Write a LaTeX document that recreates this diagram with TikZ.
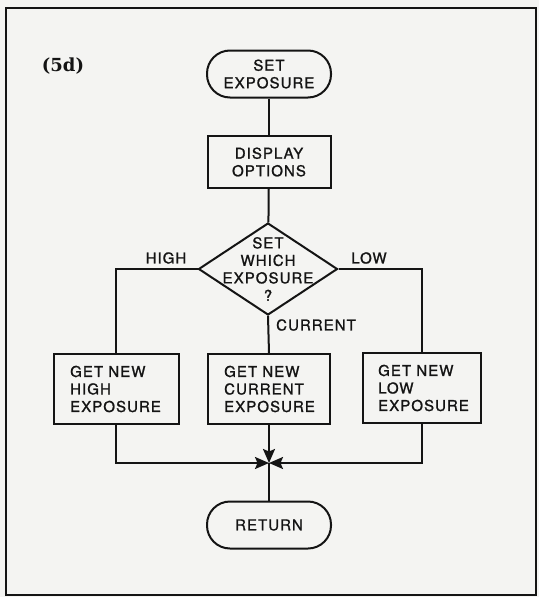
\documentclass[tikz,border=0pt]{standalone}
\usepackage{fontspec}
\newfontfamily\lettering[LetterSpace=7,FakeBold=1.2]{TeX Gyre Heros}
\newfontfamily\figfont{DejaVu Serif}
\usetikzlibrary{shapes.geometric,arrows.meta}
\definecolor{paper}{RGB}{244,244,242}
\definecolor{ink}{RGB}{20,20,20}
\begin{document}
\begin{tikzpicture}[x=1pt,y=-1pt,
  every node/.style={font=\lettering\fontsize{15}{17.5}\selectfont, text=ink},
  line/.style={draw=ink, line width=2pt},
  term/.style={line, rounded corners=23pt, minimum width=124pt, minimum height=47pt, inner sep=0pt, align=center},
  proc/.style={line, minimum height=70pt, inner sep=0pt},
  lbl/.style={inner sep=0pt},
  tip/.style={-{Stealth[length=14pt,width=12pt,inset=2.5pt]}}
]
\fill[paper] (0,0) rectangle (539,597);
\useasboundingbox (0,0) rectangle (539,597);
\draw[line] (6,8) rectangle (536,595);
\node[font=\figfont\bfseries\fontsize{18}{21}\selectfont, anchor=center] (fig) at (63,66) {(5d)};

\node[term] (start) at (269,74) {SET\\EXPOSURE};
\node[proc, minimum width=123pt, minimum height=52pt, align=center] (disp) at (269,162) {DISPLAY\\OPTIONS};
\node[line, diamond, minimum width=139pt, minimum height=92pt, inner sep=0pt] (dec) at (268,269) {};
\node[lbl, align=center] (dectext) at (268,269) {SET\\WHICH\\EXPOSURE\\?};

\node[proc, minimum width=125pt] (hi) at (116,389) {};
\node[lbl, align=left, anchor=west] (hitext) at (70,389) {GET NEW\\HIGH\\EXPOSURE};
\node[proc, minimum width=122pt] (cur) at (269,389) {};
\node[lbl, align=left, anchor=west] (curtext) at (224,389) {GET NEW\\CURRENT\\EXPOSURE};
\node[proc, minimum width=118pt] (lo) at (422,388) {};
\node[lbl, align=left, anchor=west] (lotext) at (378,388) {GET NEW\\LOW\\EXPOSURE};

\coordinate (j) at (269,463);
\node[term] (ret) at (269,525) {RETURN};

\node[lbl] (high) at (166,258) {HIGH};
\node[lbl] (low) at (369,258) {LOW};
\node[lbl, anchor=west] (current) at (276,325) {CURRENT};

\draw[line] (start) -- (disp);
\draw[line] (disp) -- (dec);
\draw[line] (dec.west) -| (hi.north);
\draw[line] (dec.east) -| (lo.north);
\draw[line] (dec.south) -- (cur.north);
\draw[line, tip] (hi.south) |- (j);
\draw[line, tip] (lo.south) |- (j);
\draw[line, tip] (cur.south) -- (j);
\draw[line] (j) -- (ret);
\end{tikzpicture}
\end{document}
